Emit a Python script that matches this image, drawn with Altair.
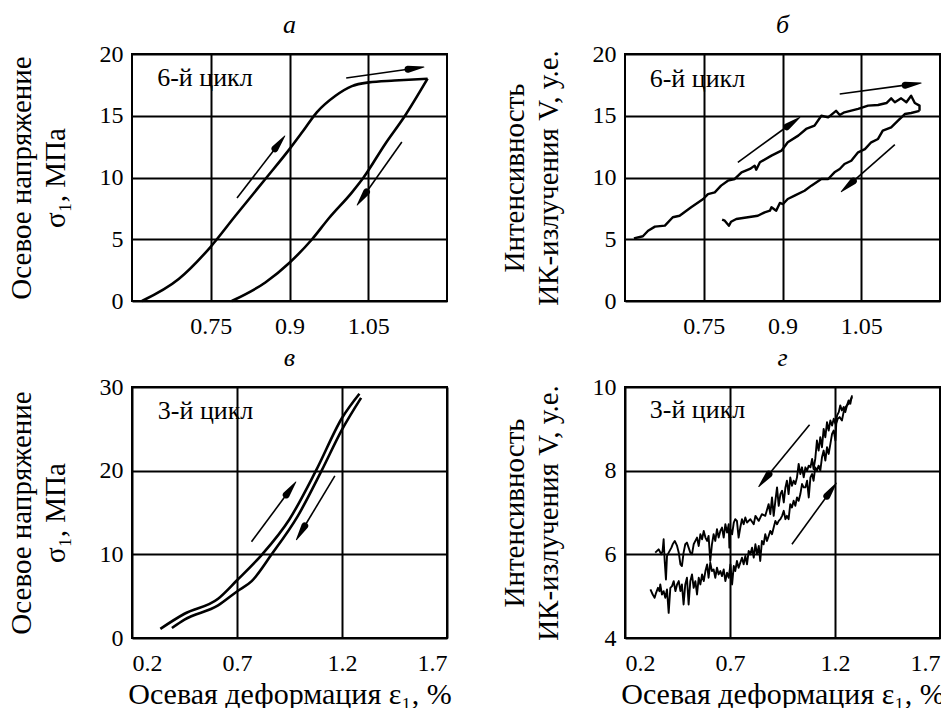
import math
import altair as alt
import pandas as pd

FONT = "Liberation Serif"

# ---------------- Panel а : stress-strain, 6th cycle ----------------
a_load_x = [0.619, 0.689, 0.749, 0.797, 0.854, 0.900, 0.924, 0.952, 0.987, 1.019, 1.051, 1.100, 1.163]
a_load_y = [0.0, 1.78, 4.35, 6.9, 9.88, 12.3, 13.66, 15.28, 16.6, 17.4, 17.7, 17.85, 18.0]
a_unload_x = [0.790, 0.854, 0.900, 0.943, 0.975, 1.019, 1.041, 1.082, 1.120, 1.163]
a_unload_y = [0.0, 1.5, 3.1, 5.0, 6.7, 8.8, 10.0, 12.7, 15.0, 18.0]
a_arrows = [(0.800, 8.34, 0.891, 13.36), (1.008, 18.06, 1.156, 18.95), (1.114, 12.87, 1.029, 7.77)]

# ---------------- Panel б : IR intensity, 6th cycle ----------------
b_load_x = [0.617, 0.634, 0.644, 0.657, 0.676, 0.691, 0.704, 0.726, 0.749, 0.758, 0.771, 0.783, 0.796,
            0.809, 0.822, 0.838, 0.847, 0.850, 0.857, 0.879, 0.898, 0.910, 0.930, 0.945, 0.961, 0.974,
            0.987, 1.002, 1.009, 1.018, 1.044, 1.063, 1.082, 1.098, 1.107, 1.114, 1.126, 1.136, 1.145,
            1.152, 1.161, 1.161]
b_load_y = [5.07, 5.24, 5.69, 6.02, 6.1, 6.78, 6.9, 7.59, 8.26, 8.66, 8.8, 9.34, 9.74,
            9.88, 10.42, 10.69, 10.96, 10.63, 11.23, 11.77, 12.17, 12.85, 13.39, 13.93, 14.2, 15.0,
            14.87, 15.4, 15.06, 15.28, 15.55, 15.82, 15.87, 16.03, 16.41, 16.09, 16.41, 16.09, 16.62,
            16.03, 15.82, 15.4]
b_unload_x = [1.161, 1.145, 1.133, 1.120, 1.107, 1.091, 1.082, 1.069, 1.057, 1.044, 1.031, 1.018, 1.009,
              0.999, 0.987, 0.974, 0.955, 0.942, 0.923, 0.910, 0.901, 0.895, 0.888, 0.879, 0.876, 0.866,
              0.853, 0.834, 0.812, 0.802, 0.798, 0.790, 0.785]
b_unload_y = [15.4, 15.22, 15.14, 14.6, 14.06, 13.79, 13.12, 12.85, 12.3, 12.04, 11.36, 11.09, 10.69,
              10.42, 9.88, 9.88, 9.34, 8.93, 8.53, 8.26, 7.85, 7.94, 7.31, 7.59, 7.31, 7.18,
              6.9, 6.78, 6.64, 6.42, 6.1, 6.5, 6.58]
b_arrows = [(0.815, 11.23, 0.933, 14.87), (1.009, 16.76, 1.164, 17.65), (1.114, 12.66, 1.012, 8.85)]

# ---------------- Panel в : stress-strain, 3rd cycle ----------------
c_load_x = [0.335, 0.45, 0.61, 0.70, 0.82, 0.95, 1.076, 1.20, 1.283]
c_load_y = [1.1, 2.9, 4.7, 6.9, 10.0, 14.2, 20.0, 26.3, 29.2]
c_unload_x = [1.291, 1.20, 1.103, 0.99, 0.865, 0.77, 0.70, 0.61, 0.45, 0.39]
c_unload_y = [28.7, 24.9, 20.0, 14.6, 10.0, 6.8, 5.56, 3.9, 2.2, 1.2]
c_arrows = [(0.769, 11.5, 0.980, 18.65), (1.166, 19.37, 0.983, 11.75)]

# ---------------- Panel г : IR intensity, 3rd cycle ----------------
d_upper_x = [0.344, 0.360, 0.373, 0.379, 0.384, 0.389, 0.395, 0.400, 0.408, 0.421, 0.427, 0.437, 0.448,
             0.456, 0.464, 0.471, 0.479, 0.487, 0.495, 0.503, 0.511, 0.519, 0.527, 0.535, 0.543, 0.551,
             0.559, 0.567, 0.575, 0.583, 0.591, 0.598, 0.606, 0.614, 0.622, 0.630, 0.638, 0.646, 0.654,
             0.662, 0.670, 0.678, 0.686, 0.694, 0.697, 0.702, 0.710, 0.718, 0.725, 0.733, 0.741, 0.749,
             0.757, 0.765, 0.773, 0.781, 0.797, 0.813, 0.821, 0.837, 0.852, 0.868, 0.884, 0.892, 0.900,
             0.908, 0.916, 0.924, 0.932, 0.940, 0.948, 0.956, 0.964, 0.971, 0.979, 0.987, 0.995, 1.003,
             1.011, 1.019, 1.027, 1.035, 1.043, 1.051, 1.059, 1.067, 1.075, 1.083, 1.091, 1.098, 1.106,
             1.114, 1.122, 1.130, 1.138, 1.146, 1.154, 1.162, 1.170, 1.178, 1.186, 1.194, 1.202, 1.210,
             1.218, 1.225, 1.233, 1.241, 1.249, 1.257, 1.265, 1.273, 1.281]
d_upper_y = [6.04, 6.12, 6.0, 6.08, 6.36, 5.84, 5.4, 5.96, 6.04, 6.16, 6.24, 6.32, 6.2,
             6.04, 5.76, 5.72, 6.04, 6.24, 6.28, 6.16, 6.04, 6.0, 6.24, 6.32, 6.4, 6.2,
             6.48, 6.36, 6.56, 6.4, 6.32, 6.44, 5.84, 6.24, 6.48, 6.32, 6.6, 6.4, 6.56,
             6.64, 6.4, 6.72, 6.52, 6.72, 6.16, 6.6, 6.48, 6.76, 6.84, 6.8, 6.4, 6.64,
             6.84, 6.72, 6.88, 6.76, 6.84, 6.72, 6.92, 6.8, 6.96, 6.92, 7.2, 6.96, 7.36,
             6.92, 7.28, 7.6, 7.16, 7.44, 7.52, 7.24, 7.6, 7.76, 7.44, 7.84, 7.64, 7.76,
             7.68, 7.84, 8.16, 7.92, 8.08, 7.84, 8.08, 8.0, 8.12, 8.08, 8.28, 8.04, 8.28,
             8.72, 8.48, 8.8, 8.56, 9.0, 8.8, 9.16, 8.96, 9.2, 9.08, 9.24, 9.12, 9.32,
             9.4, 9.56, 9.44, 9.52, 9.4, 9.56, 9.68, 9.6, 9.8]
d_lower_x = [0.321, 0.332, 0.341, 0.348, 0.357, 0.364, 0.368, 0.376, 0.384, 0.392, 0.400, 0.408, 0.416,
             0.424, 0.432, 0.440, 0.448, 0.456, 0.464, 0.471, 0.479, 0.487, 0.495, 0.503, 0.511, 0.519,
             0.527, 0.535, 0.543, 0.551, 0.559, 0.567, 0.575, 0.583, 0.591, 0.598, 0.606, 0.614, 0.622,
             0.630, 0.638, 0.646, 0.654, 0.662, 0.670, 0.678, 0.686, 0.694, 0.702, 0.710, 0.718, 0.725,
             0.733, 0.741, 0.749, 0.757, 0.765, 0.773, 0.781, 0.789, 0.797, 0.805, 0.813, 0.821, 0.829,
             0.837, 0.844, 0.852, 0.860, 0.868, 0.876, 0.884, 0.892, 0.900, 0.908, 0.916, 0.924, 0.932,
             0.940, 0.948, 0.956, 0.964, 0.971, 0.979, 0.987, 0.995, 1.003, 1.011, 1.019, 1.027, 1.035,
             1.043, 1.051, 1.059, 1.067, 1.075, 1.083, 1.091, 1.098, 1.106, 1.114, 1.122, 1.130, 1.138,
             1.146, 1.154, 1.162, 1.170, 1.178, 1.186, 1.194, 1.202, 1.206, 1.213, 1.222, 1.233, 1.241,
             1.249, 1.257, 1.265, 1.273, 1.281]
d_lower_y = [5.16, 5.04, 4.96, 5.08, 5.2, 5.12, 5.28, 5.04, 5.12, 4.96, 5.16, 4.6, 5.2,
             5.24, 5.36, 5.12, 5.28, 5.36, 5.12, 5.28, 4.8, 5.28, 5.44, 4.8, 5.36, 5.52,
             5.2, 5.36, 5.04, 5.44, 5.28, 5.52, 5.36, 5.6, 5.76, 5.44, 5.8, 5.6, 5.64,
             5.44, 5.68, 5.52, 5.6, 5.48, 5.64, 5.36, 5.56, 5.44, 5.76, 5.28, 5.72, 5.6,
             5.84, 5.68, 5.8, 5.92, 5.76, 5.96, 5.76, 6.08, 6.0, 6.16, 5.92, 6.24, 6.0,
             6.2, 5.84, 6.32, 6.24, 6.48, 6.32, 6.44, 6.56, 6.48, 6.64, 6.8, 6.72, 6.8,
             6.84, 6.92, 7.04, 6.84, 6.92, 6.84, 7.2, 7.12, 7.28, 7.16, 7.36, 7.28, 7.44,
             7.68, 7.6, 7.6, 7.76, 7.36, 7.84, 7.92, 7.76, 8.08, 8.0, 8.12, 8.0, 8.32,
             8.48, 8.24, 8.56, 8.4, 8.64, 8.88, 8.96, 8.72, 9.12, 9.24, 9.28, 9.2, 9.4,
             9.52, 9.56, 9.6, 9.68, 9.76]
d_arrows = [(1.079, 9.1, 0.837, 7.62), (0.995, 6.24, 1.206, 7.70)]

# ---------------- labels ----------------
panel_titles = ["а", "б", "в", "г"]
cycle_labels = ["6-й цикл", "6-й цикл", "3-й цикл", "3-й цикл"]
cycle_label_pos = [(0.648, 17.4), (0.647, 17.3), (0.323, 26.2), (0.318, 9.26)]
y_title_stress = ["Осевое  напряжение", "σ₁, МПа"]
y_title_ir = ["Интенсивность", "ИК-излучения V, у.е."]
x_title = "Осевая  деформация  ε₁, %"
top_x_ticks = [0.75, 0.9, 1.05]
bottom_x_ticks = [0.2, 0.7, 1.2, 1.7]

HEAD_LEN = 16   # px
HEAD_W = 7      # px


def curves_df(curves):
    rows = []
    for name, xs, ys in curves:
        for i, (x, y) in enumerate(zip(xs, ys)):
            rows.append({"x": x, "y": y, "s": name, "i": i})
    return pd.DataFrame(rows)


def arrow_frames(arrows, xdom, ydom, w, h):
    kx = w / (xdom[1] - xdom[0])
    ky = h / (ydom[1] - ydom[0])
    shafts, heads = [], []
    for k, (x1, y1, x2, y2) in enumerate(arrows):
        vx, vy = (x2 - x1) * kx, (y2 - y1) * ky
        n = math.hypot(vx, vy)
        bx = x2 - HEAD_LEN * vx / n / kx
        by = y2 - HEAD_LEN * vy / n / ky
        shafts.append({"xa": x1, "ya": y1, "xb": bx, "yb": by})
        heads.append({"hx": bx, "hy": by, "hw": HEAD_W, "k": k, "o": 0})
        heads.append({"hx": x2, "hy": y2, "hw": 0, "k": k, "o": 1})
    return pd.DataFrame(shafts), pd.DataFrame(heads)


def panel(curves, arrows, title, label, label_pos, xdom, ydom, xvals, yvals, xfmt,
          ytitle, xtitle, w, h, interp, sw):
    xs = alt.Scale(domain=xdom, nice=False, zero=False)
    ys = alt.Scale(domain=ydom, nice=False, zero=False)
    xax = alt.Axis(values=xvals, format=xfmt)
    yax = alt.Axis(values=yvals, format="d")
    if xtitle:
        xenc = alt.X("x:Q", scale=xs, axis=xax, title=xtitle)
    else:
        xenc = alt.X("x:Q", scale=xs, axis=xax, title=None)
    yenc = alt.Y("y:Q", scale=ys, axis=yax, title=ytitle)

    lines = alt.Chart(curves_df(curves)).mark_line(
        color="black", strokeWidth=sw, interpolate=interp, strokeJoin="round"
    ).encode(x=xenc, y=yenc, detail="s:N", order="i:Q")

    sdf, hdf = arrow_frames(arrows, xdom, ydom, w, h)
    rules = alt.Chart(sdf).mark_rule(color="black", strokeWidth=1.6).encode(
        x="xa:Q", y="ya:Q", x2="xb:Q", y2="yb:Q")
    heads = alt.Chart(hdf).mark_trail(color="black").encode(
        x="hx:Q", y="hy:Q", size=alt.Size("hw:Q", scale=None),
        detail="k:N", order="o:Q")

    tdf = pd.DataFrame({"x": [label_pos[0]], "y": [label_pos[1]], "t": [label]})
    text = alt.Chart(tdf).mark_text(
        align="left", baseline="alphabetic", font=FONT, fontSize=26, color="black"
    ).encode(x="x:Q", y="y:Q", text="t:N")

    return alt.layer(lines, rules, heads, text).properties(
        width=w, height=h,
        title=alt.TitleParams(title, font=FONT, fontSize=26, fontStyle="italic",
                              fontWeight="normal", color="black", offset=4),
    )


pa = panel([("load", a_load_x, a_load_y), ("unload", a_unload_x, a_unload_y)], a_arrows,
           panel_titles[0], cycle_labels[0], cycle_label_pos[0], [0.6, 1.2], [0, 20],
           top_x_ticks, [0, 5, 10, 15, 20], ".2~f", y_title_stress, None, 315, 247, "monotone", 2.6)
pb = panel([("load", b_load_x, b_load_y), ("unload", b_unload_x, b_unload_y)], b_arrows,
           panel_titles[1], cycle_labels[1], cycle_label_pos[1], [0.6, 1.2], [0, 20],
           top_x_ticks, [0, 5, 10, 15, 20], ".2~f", y_title_ir, None, 315, 247, "linear", 2.4)
pc = panel([("load", c_load_x, c_load_y), ("unload", c_unload_x, c_unload_y)], c_arrows,
           panel_titles[2], cycle_labels[2], cycle_label_pos[2], [0.2, 1.7], [0, 30],
           bottom_x_ticks, [0, 10, 20, 30], ".1f", y_title_stress, x_title, 315, 251, "monotone", 2.6)
pd_ = panel([("up", d_upper_x, d_upper_y), ("low", d_lower_x, d_lower_y)], d_arrows,
            panel_titles[3], cycle_labels[3], cycle_label_pos[3], [0.2, 1.7], [4, 10],
            bottom_x_ticks, [4, 6, 8, 10], ".1f", y_title_ir, x_title, 315, 251, "linear", 1.9)

chart = alt.concat(
    pa, pb, pc, pd_, columns=2,
    spacing=alt.RowColnumber(row=86, column=178), bounds="flush",
).properties(
    padding={"left": -3, "top": 3, "right": -12, "bottom": -2}
).configure_view(
    stroke="black", strokeWidth=2
).configure_axis(
    grid=True, gridColor="black", gridWidth=2, gridOpacity=1,
    domain=False, ticks=False,
    labelFont=FONT, labelFontSize=24, labelColor="black", labelPadding=13,
    titleFont=FONT, titleFontSize=29, titleFontWeight="normal", titleColor="black",
    titleLineHeight=34,
).configure_axisY(
    titlePadding=29, labelPadding=9
).configure_axisX(
    titlePadding=4, titleFontSize=30
)

chart.save("out.html", embed_options={"renderer": "svg", "actions": False})
